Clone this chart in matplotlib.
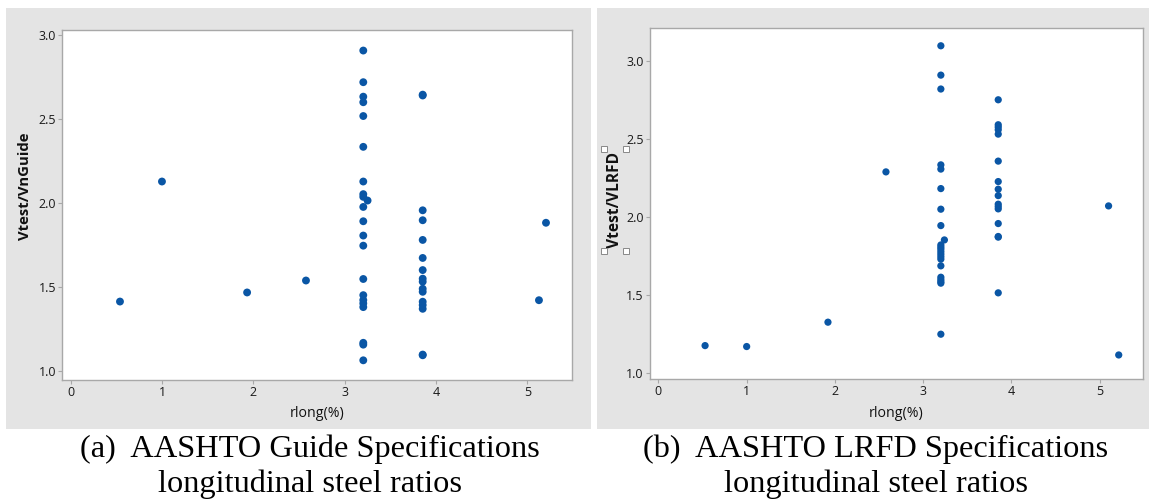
import matplotlib
matplotlib.use("Agg")
import matplotlib.pyplot as plt
from matplotlib.patches import Rectangle
from matplotlib.lines import Line2D

# (a) AASHTO Guide Specifications: Vtest/VnGuide vs rlong(%)
guide_rlong = [0.537, 0.997, 1.93, 2.575, 5.128, 5.205,
               3.203, 3.203, 3.203, 3.203, 3.203, 3.203, 3.203, 3.203, 3.203, 3.203, 3.203,
               3.203, 3.203, 3.203, 3.203, 3.203, 3.203, 3.203, 3.203, 3.203, 3.203,
               3.25,
               3.854, 3.854, 3.854, 3.854, 3.854, 3.854, 3.854, 3.854, 3.854, 3.854, 3.854,
               3.854, 3.854, 3.854, 3.854, 3.854]
guide_ratio = [1.414, 2.127, 1.468, 1.539, 1.422, 1.882,
               2.905, 2.717, 2.631, 2.598, 2.516, 2.333, 2.127, 2.052, 2.036, 1.976, 1.891,
               1.806, 1.746, 1.548, 1.452, 1.423, 1.403, 1.381, 1.169, 1.158, 1.065,
               2.014,
               2.643, 2.638, 1.956, 1.897, 1.780, 1.673, 1.601, 1.550, 1.532, 1.490, 1.472,
               1.413, 1.393, 1.371, 1.099, 1.095]

# (b) AASHTO LRFD Specifications: Vtest/VLRFD vs rlong(%)
lrfd_rlong = [0.529, 1.0, 1.921, 2.578, 5.10, 5.215,
              3.20, 3.20, 3.20, 3.20, 3.20, 3.20, 3.20, 3.20, 3.20, 3.20, 3.20,
              3.20, 3.20, 3.20, 3.20, 3.20, 3.20, 3.20, 3.20, 3.20, 3.20,
              3.24,
              3.85, 3.85, 3.85, 3.85, 3.85, 3.85, 3.85, 3.85, 3.85, 3.85, 3.85,
              3.85, 3.85, 3.85, 3.85, 3.85]
lrfd_ratio = [1.177, 1.171, 1.327, 2.290, 2.072, 1.117,
              3.098, 2.910, 2.821, 2.335, 2.308, 2.183, 2.051, 1.946, 1.822, 1.808, 1.795,
              1.779, 1.763, 1.747, 1.731, 1.688, 1.615, 1.600, 1.587, 1.577, 1.250,
              1.854,
              2.752, 2.592, 2.577, 2.560, 2.532, 2.359, 2.228, 2.179, 2.138, 2.083, 2.068,
              2.053, 1.959, 1.876, 1.872, 1.515]

x_ticks = [0, 1, 2, 3, 4, 5]
y_ticks = [1.0, 1.5, 2.0, 2.5, 3.0]

W, H = 1150, 501
PANEL_GRAY = "#e4e4e4"
DOT = "#0a56a5"
FRAME = "#a8a8a8"
UI_FONT = ["Open Sans", "DejaVu Sans"]
SERIF = ["Liberation Serif", "DejaVu Serif"]


def px_box(x0, y0, x1, y1):
    # pixel box (top-left origin) -> figure fraction [left, bottom, width, height]
    return [x0 / W, 1 - y1 / H, (x1 - x0) / W, (y1 - y0) / H]


fig = plt.figure(figsize=(W / 100, H / 100), dpi=100)
fig.patch.set_facecolor("white")

# gray Minitab-style graph backgrounds
for box in [px_box(6, 8, 591, 429), px_box(597, 8, 1149, 429)]:
    fig.add_artist(Rectangle((box[0], box[1]), box[2], box[3],
                             transform=fig.transFigure, facecolor=PANEL_GRAY,
                             edgecolor="none", zorder=0))

panels = [
    dict(box=px_box(62.3, 29.5, 572, 379.5), x=guide_rlong, y=guide_ratio,
         ylim=(0.951, 3.03), ylabel="Vtest/VnGuide", ylab_pos=(-0.073, 0.551),
         size=32, ylab_size=10.7,
         caption=["(a)  AASHTO Guide Specifications", "longitudinal steel ratios"],
         cap_x=310),
    dict(box=px_box(650, 28.3, 1143, 379), x=lrfd_rlong, y=lrfd_ratio,
         ylim=(0.963, 3.21), ylabel="Vtest/VLRFD", ylab_pos=(-0.071, 0.51),
         size=27, ylab_size=11.2,
         caption=["(b)  AASHTO LRFD Specifications", "longitudinal steel ratios"],
         cap_x=876),
]

axes = []
for p in panels:
    ax = fig.add_axes(p["box"])
    ax.set_facecolor("white")
    ax.scatter(p["x"], p["y"], s=p["size"], color=DOT, edgecolors="none", zorder=3)
    ax.set_xlim(-0.095, 5.49)
    ax.set_ylim(*p["ylim"])
    ax.set_xticks(x_ticks)
    ax.set_yticks(y_ticks)
    ax.set_yticklabels([f"{v:.1f}" for v in y_ticks])
    for sp in ax.spines.values():
        sp.set_color(FRAME)
        sp.set_linewidth(1.0)
    ax.tick_params(direction="out", length=3, width=0.8, color=FRAME,
                   labelsize=9, labelcolor="#1a1a1a", pad=1.5)
    for lab in ax.get_xticklabels() + ax.get_yticklabels():
        lab.set_family(UI_FONT)
    ax.set_xlabel("rlong(%)", fontsize=10.2, family=UI_FONT, color="#111111")
    ax.xaxis.label.set_va("center")
    ax.xaxis.set_label_coords(0.5, -0.097)
    ax.set_ylabel(p["ylabel"], fontsize=p["ylab_size"], family=UI_FONT,
                  fontweight="bold", color="#111111")
    ax.yaxis.label.set_va("center")
    ax.yaxis.set_label_coords(*p["ylab_pos"])
    # captions under each graph
    fig.text(p["cap_x"] / W, 1 - 457 / H, p["caption"][0], ha="center",
             va="baseline", fontsize=23.3, family=SERIF, color="black")
    fig.text(p["cap_x"] / W, 1 - 492 / H, p["caption"][1], ha="center",
             va="baseline", fontsize=23.3, family=SERIF, color="black")
    axes.append(ax)

# selection handles around the LRFD y-label, as in the source screenshot
fig.canvas.draw()
bb = axes[1].yaxis.label.get_window_extent().transformed(fig.transFigure.inverted())
pad_x, pad_y = 3 / W, 3 / H
hx = [bb.x0 - pad_x, bb.x1 + pad_x, bb.x0 - pad_x, bb.x1 + pad_x]
hy = [bb.y1 + pad_y, bb.y1 + pad_y, bb.y0 - pad_y, bb.y0 - pad_y]
fig.add_artist(Line2D(hx, hy, transform=fig.transFigure, linestyle="none",
                      marker="s", markersize=4, markerfacecolor="white",
                      markeredgecolor="#888888", markeredgewidth=0.7))

fig.savefig("out.png", dpi=100)
